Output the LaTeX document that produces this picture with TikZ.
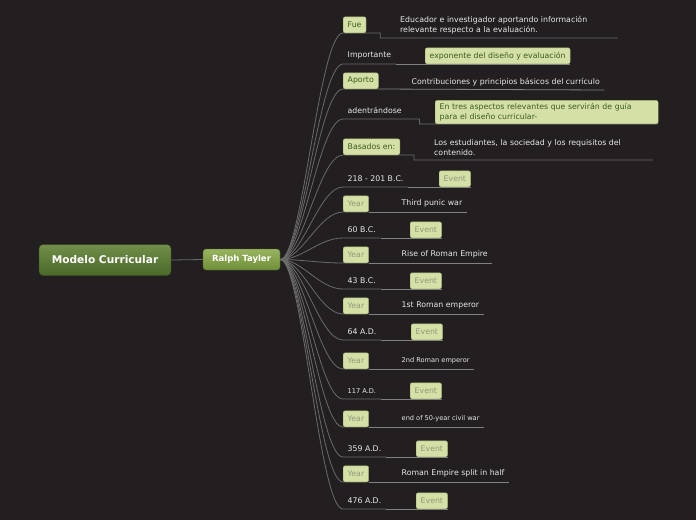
\documentclass[tikz,border=0pt]{standalone}
\usepackage{fontspec}
\setmainfont{DejaVu Sans}
\usepackage{tikz}
\usetikzlibrary{positioning,backgrounds}

\definecolor{bg}{HTML}{231F20}
\definecolor{tagfill}{HTML}{D4E0A6}
\definecolor{tagdraw}{HTML}{A3B173}
\definecolor{tagtext}{HTML}{3E5B20}
\definecolor{evtext}{HTML}{8E9A78}
\definecolor{leaftext}{HTML}{E8E8E8}
\definecolor{wirecol}{HTML}{6A6A6A}
\definecolor{rootA}{HTML}{718E4A}
\definecolor{rootB}{HTML}{4A6828}
\definecolor{topA}{HTML}{98B460}
\definecolor{topB}{HTML}{6F8F38}

\newcommand\fsleaf{\fontsize{7.8}{10.5}\selectfont}
\newcommand\fssmall{\fontsize{6.6}{8}\selectfont}

\begin{document}
\begin{tikzpicture}[x=1pt,y=-1pt,
  every node/.style={font=\fsleaf},
  root/.style={draw=rootB!70!black,rounded corners=4pt,top color=rootA,
    bottom color=rootB,text=white,minimum width=132pt,minimum height=31pt,
    font=\bfseries\fontsize{10.6}{12}\selectfont},
  topic/.style={draw=topB!70!black,rounded corners=3pt,top color=topA,
    bottom color=topB,text=white,minimum width=77pt,minimum height=21pt,
    font=\bfseries\fontsize{8.5}{10}\selectfont},
  leaf/.style={anchor=south west,minimum height=16pt,inner xsep=4.5pt,
    inner ysep=2pt,text=leaftext,align=left},
  tag/.style={leaf,draw=tagdraw,fill=tagfill,rounded corners=2pt,text=tagtext},
  ev/.style={tag,text=evtext},
  small/.style={font=\fssmall},
  two/.style={inner ysep=3.5pt},
  wire/.style={draw=wirecol,line width=0.8pt},
  uline/.style={draw=wirecol!85!white,line width=0.8pt}]

\node[root] (mc) at (105,260) {Modelo Curricular};
\node[topic] (rt) at (241.5,259.5) {Ralph Tayler};

% ramas
\node[tag] (c1) at (343,33) {Fue};
\node[leaf,two,text width=213pt] (s1) at (395.5,38)
  {Educador e investigador aportando información\\relevante respecto a la evaluación.};
\node[leaf] (c2) at (343,64) {Importante};
\node[tag] (s2) at (425,64) {exponente del diseño y evaluación};
\node[tag] (c3) at (343,89) {Aporto};
\node[leaf] (s3) at (407,90) {Contribuciones y principios básicos del currículo};
\node[leaf] (c4) at (343,119) {adentrándose};
\node[tag,inner ysep=2.5pt,text width=214pt] (s4) at (435,124)
  {En tres aspectos relevantes que servirán de guía\\para el diseño curricular-};
\node[tag] (c5) at (343,155) {Basados en:};
\node[leaf,inner ysep=4pt,text width=214pt] (s5) at (429.5,160)
  {Los estudiantes, la sociedad y los requisitos del\\contenido.};

% cronologia
\node[leaf] (c6) at (343,187) {218 - 201 B.C.};
\node[ev] (s6) at (439,187) {Event};
\node[tag,text=evtext] (c7) at (343,212) {Year};
\node[leaf] (s7) at (397,212) {Third punic war};
\node[leaf] (c8) at (343,238) {60 B.C.};
\node[ev] (s8) at (410,238) {Event};
\node[tag,text=evtext] (c9) at (343,263) {Year};
\node[leaf] (s9) at (397,263) {Rise of Roman Empire};
\node[leaf] (c10) at (343,289) {43 B.C.};
\node[ev] (s10) at (410,289) {Event};
\node[tag,text=evtext] (c11) at (343,314) {Year};
\node[leaf] (s11) at (397,314) {1st Roman emperor};
\node[leaf] (c12) at (343,340) {64 A.D.};
\node[ev] (s12) at (411,340) {Event};
\node[tag,text=evtext] (c13) at (343,369) {Year};
\node[leaf,small] (s13) at (397,369) {2nd Roman emperor};
\node[leaf,small] (c14) at (343,399) {117 A.D.};
\node[ev] (s14) at (410,399) {Event};
\node[tag,text=evtext] (c15) at (343,427) {Year};
\node[leaf,small] (s15) at (397,427) {end of 50-year civil war};
\node[leaf] (c16) at (343,457) {359 A.D.};
\node[ev] (s16) at (416,457) {Event};
\node[tag,text=evtext] (c17) at (343,482) {Year};
\node[leaf] (s17) at (397,482) {Roman Empire split in half};
\node[leaf] (c18) at (343,509) {476 A.D.};
\node[ev] (s18) at (416,509) {Event};

\begin{scope}[on background layer]
\fill[bg] (0,0) rectangle (696,520);
\draw[wire] (mc.east) -- (rt.west);
\foreach \i in {2,3,6,7,8,9,10,11,12,13,14,15,16,17,18}
  \draw[wire] (rt.east) .. controls +(22,0) and +(-24,0) .. (c\i.south west)
    -- (c\i.south east);
\foreach \i in {2,3,6,7,8,9,10,11,12,13,14,15,16,17,18}
  \draw[uline] (c\i.south east) -- (s\i.south east);
\draw[wire] (rt.east) .. controls +(22,0) and +(-24,0) .. (c1.south west)
  -- (c1.south east) -- ++(14,0) |- (s1.south east);
\draw[wire] (rt.east) .. controls +(22,0) and +(-24,0) .. (c4.south west)
  -- (c4.south east) -- ++(13,0) |- (s4.south east);
\draw[wire] (rt.east) .. controls +(22,0) and +(-24,0) .. (c5.south west)
  -- (c5.south east) -- ++(14,0) |- (s5.south east);
\end{scope}
\end{tikzpicture}
\end{document}
